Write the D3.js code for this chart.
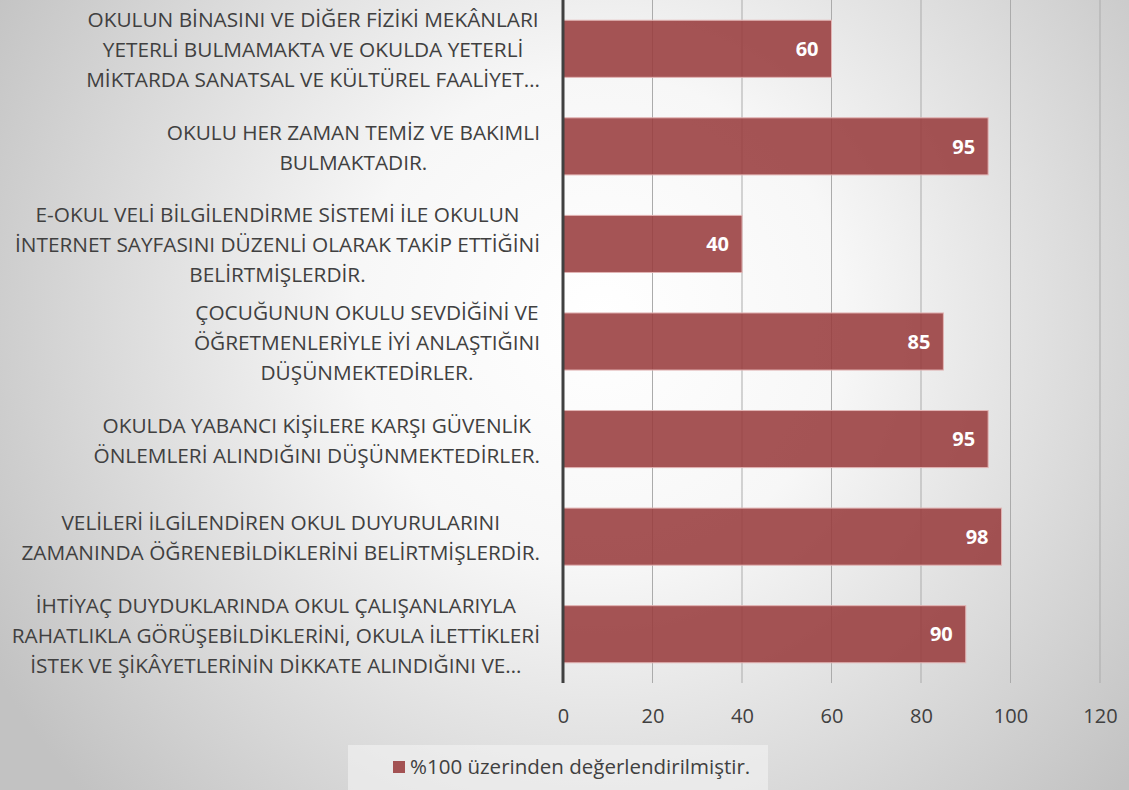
<!DOCTYPE html>
<html>
<head>
<meta charset="utf-8">
<script src="https://cdn.jsdelivr.net/npm/d3@7"></script>
<style>
  html, body { margin: 0; padding: 0; }
  body { width: 1129px; height: 790px; overflow: hidden; }
</style>
</head>
<body>
<div id="plot"></div>
<script>
// category labels, already broken into lines like the original
var categories = [
    ["OKULUN BİNASINI VE DİĞER FİZİKİ MEKÂNLARI", "YETERLİ BULMAMAKTA VE OKULDA YETERLİ", "MİKTARDA SANATSAL VE KÜLTÜREL FAALİYET…"],
    ["OKULU HER ZAMAN TEMİZ VE BAKIMLI", "BULMAKTADIR."],
    ["E-OKUL VELİ BİLGİLENDİRME SİSTEMİ İLE OKULUN", "İNTERNET SAYFASINI DÜZENLİ OLARAK TAKİP ETTİĞİNİ", "BELİRTMİŞLERDİR."],
    ["ÇOCUĞUNUN OKULU SEVDİĞİNİ VE", "ÖĞRETMENLERİYLE İYİ ANLAŞTIĞINI", "DÜŞÜNMEKTEDİRLER."],
    ["OKULDA YABANCI KİŞİLERE KARŞI GÜVENLİK", "ÖNLEMLERİ ALINDIĞINI DÜŞÜNMEKTEDİRLER."],
    ["VELİLERİ İLGİLENDİREN OKUL DUYURULARINI", "ZAMANINDA ÖĞRENEBİLDİKLERİNİ BELİRTMİŞLERDİR."],
    ["İHTİYAÇ DUYDUKLARINDA OKUL ÇALIŞANLARIYLA", "RAHATLIKLA GÖRÜŞEBİLDİKLERİNİ, OKULA İLETTİKLERİ", "İSTEK VE ŞİKÂYETLERİNİN DİKKATE ALINDIĞINI VE…"]
];
var values = [60, 95, 40, 85, 95, 98, 90];
var xTicks = [0, 20, 40, 60, 80, 100, 120];
var seriesName = "%100 üzerinden değerlendirilmiştir.";

var W = 1129, H = 790;
var margin = {top: 0, left: 563, right: 29};
var plotH = 683;
var labelRight = 540;
var font = "'Open Sans', sans-serif";
var textCol = "#404040";

var svg = d3.select("#plot").append("svg")
    .attr("width", W).attr("height", H);

// background gradient
var defs = svg.append("defs");
var rg = defs.append("radialGradient").attr("id", "bg")
    .attr("gradientUnits", "userSpaceOnUse")
    .attr("cx", 600).attr("cy", 320).attr("r", 700);
rg.append("stop").attr("offset", "0%").attr("stop-color", "#ffffff");
rg.append("stop").attr("offset", "35%").attr("stop-color", "#f7f7f7");
rg.append("stop").attr("offset", "100%").attr("stop-color", "#c2c2c2");
svg.append("rect").attr("width", W).attr("height", H).attr("fill", "url(#bg)");

var x = d3.scaleLinear().domain([0, 120]).range([margin.left, W - margin.right]);
var y = d3.scaleBand()
    .domain(d3.range(categories.length))
    .range([margin.top, plotH])
    .paddingInner(0.415)
    .paddingOuter(0.2075);

// gridlines
svg.append("g")
    .selectAll("line")
    .data(xTicks.slice(1))
    .enter().append("line")
    .attr("x1", d => x(d)).attr("x2", d => x(d))
    .attr("y1", 0).attr("y2", plotH)
    .attr("stroke", "#ababab").attr("stroke-width", 1);

// bars
svg.append("g")
    .selectAll("rect")
    .data(values)
    .enter().append("rect")
    .attr("x", x(0))
    .attr("y", (d, i) => y(i))
    .attr("width", d => x(d) - x(0))
    .attr("height", y.bandwidth())
    .attr("fill", "#993c3e")
    .attr("fill-opacity", 0.88)
    .attr("stroke", "#e2b4b4")
    .attr("stroke-width", 1);

// value labels
svg.append("g")
    .selectAll("text")
    .data(values)
    .enter().append("text")
    .attr("x", d => x(d) - 13)
    .attr("y", (d, i) => y(i) + y.bandwidth() / 2)
    .attr("dy", "0.36em")
    .attr("text-anchor", "end")
    .attr("font-family", font)
    .attr("font-weight", "bold")
    .attr("font-size", 20)
    .attr("fill", "#ffffff")
    .text(d => d);

// vertical axis line
svg.append("line")
    .attr("x1", x(0)).attr("x2", x(0))
    .attr("y1", 0).attr("y2", plotH)
    .attr("stroke", "#404040").attr("stroke-width", 3);

// category labels: block right-aligned, lines centred within block
var lineH = 30;
var lab = svg.append("g");
categories.forEach(function(lines, i) {
    var cy = y(i) + y.bandwidth() / 2 + 1;
    var t = lab.append("text")
        .attr("text-anchor", "middle")
        .attr("font-family", font)
        .attr("font-size", 20.8)
        .attr("fill", textCol);
    var spans = lines.map(function(s, j) {
        return t.append("tspan")
            .attr("y", cy + (j - (lines.length - 1) / 2) * lineH)
            .attr("dy", "0.36em")
            .text(s);
    });
    var maxW = d3.max(spans, sp => sp.node().getComputedTextLength());
    spans.forEach(sp => sp.attr("x", labelRight - maxW / 2));
});

// x axis
var xAxis = svg.append("g")
    .attr("transform", "translate(0," + plotH + ")")
    .call(d3.axisBottom(x).tickValues(xTicks).tickSize(0).tickPadding(26));
xAxis.select(".domain").remove();
xAxis.selectAll("text")
    .attr("font-family", font)
    .attr("font-size", 20)
    .attr("fill", textCol);

// legend
var leg = svg.append("g");
leg.append("rect")
    .attr("x", 348).attr("y", 745).attr("width", 420).attr("height", 50)
    .attr("fill", "#f4f4f4").attr("fill-opacity", 0.6);
leg.append("rect")
    .attr("x", 393).attr("y", 761).attr("width", 12).attr("height", 12)
    .attr("fill", "#993c3e").attr("fill-opacity", 0.88);
leg.append("text")
    .attr("x", 410).attr("y", 767)
    .attr("dy", "0.36em")
    .attr("font-family", font)
    .attr("font-size", 20.5)
    .attr("fill", textCol)
    .text(seriesName);
</script>
</body>
</html>
